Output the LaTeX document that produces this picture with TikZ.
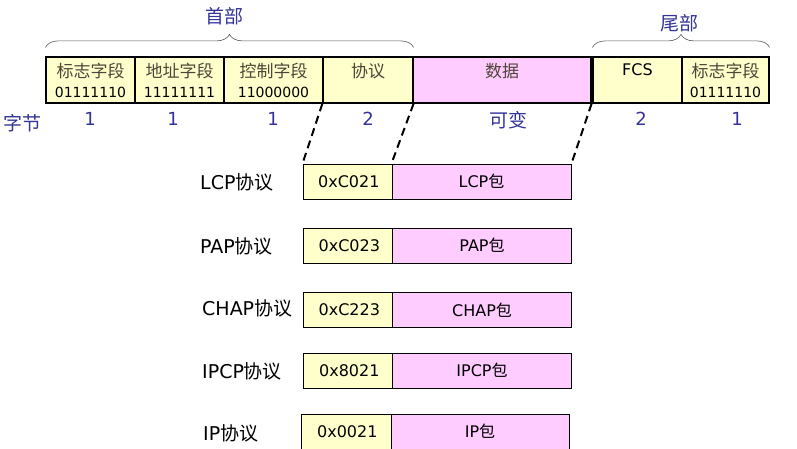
\documentclass[tikz,border=0pt]{standalone}
\usepackage{fontspec}
\setmainfont{DejaVu Sans}
\newfontfamily\zhfont{Noto Sans CJK SC}
\usepackage{tikz}
\usetikzlibrary{
    calc,
    decorations.pathreplacing
}
\definecolor{fldyellow}{RGB}{255,255,204}
\definecolor{datpink}{RGB}{255,204,255}
\definecolor{lblblue}{RGB}{51,51,153}
\definecolor{zhgray}{RGB}{80,68,56}
\newcommand{\zh}[1]{{\zhfont\color{zhgray}#1}}
\newcommand{\zb}[1]{{\zhfont #1}}

\begin{document}
\begin{tikzpicture}[x=1pt, y=-1pt,
    fld/.style={draw, line width=1.2pt, fill=fldyellow, inner sep=0pt, minimum height=46pt, align=center, font=\fontsize{14}{20}\selectfont},
    dat/.style={fld, fill=datpink},
    sub/.style={draw, line width=1pt, fill=fldyellow, inner sep=0pt, minimum height=35pt, font=\fontsize{16}{18}\selectfont},
    subd/.style={sub, fill=datpink},
    num/.style={text=lblblue, font=\fontsize{18}{20}\selectfont},
    lbl/.style={text=lblblue, font=\zhfont\fontsize{19}{20}\selectfont},
    proto/.style={anchor=west, inner sep=0pt, font=\fontsize{19}{20}\selectfont},
    cut/.style={line width=2pt, dash pattern=on 8pt off 5pt},
    brc/.style={decorate, decoration={brace, amplitude=13pt, raise=9pt}, gray!70!black, line width=0.6pt}
]
        \useasboundingbox (0,0) rectangle (797,448);

        % frame
        \draw (90.5,80) node[fld, minimum width=89pt](f1){\zh{\fontsize{17}{20}\selectfont 标志字段}\\01111110};
        \draw (179.5,80) node[fld, minimum width=89pt](f2){\zh{\fontsize{17}{20}\selectfont 地址字段}\\11111111};
        \draw (273.5,80) node[fld, minimum width=99pt](f3){\zh{\fontsize{17}{20}\selectfont 控制字段}\\11000000};
        \draw (368,80) node[fld, minimum width=90pt](f4){\zh{\fontsize{17}{20}\selectfont 协议}\\~};
        \draw (502,80) node[dat, minimum width=178pt](f5){\zh{\fontsize{17}{20}\selectfont 数据}\\~};
        \draw (637.5,80) node[fld, minimum width=89pt](f6){\fontsize{16}{20}\selectfont FCS\\~};
        \draw (725.5,80) node[fld, minimum width=87pt](f7){\zh{\fontsize{17}{20}\selectfont 标志字段}\\01111110};

        \draw[brc] (f1.north west) -- (f4.north east);
        \draw[brc] (f6.north west) -- (f7.north east);
        \draw (224,16) node[lbl](hd){首部};
        \draw (679,23) node[lbl](tl){尾部};

        % byte counts
        \draw (23,123) node[lbl](by){字节};
        \draw (90,119) node[num](n1){1};
        \draw (173,119) node[num](n2){1};
        \draw (273,119) node[num](n3){1};
        \draw (368,119) node[num](n4){2};
        \draw (508,120) node[lbl](n5){可变};
        \draw (641,119) node[num](n6){2};
        \draw (737,119) node[num](n7){1};

        % protocol field values
        \draw (347.5,181.5) node[sub, minimum width=89pt](p1){\,0xC021};
        \draw (481.5,181.5) node[subd, minimum width=179pt](d1){LCP\zb{包}};
        \draw (200,182) node[proto](l1){LCP\zb{协议}};

        \draw (348,245.5) node[sub, minimum width=89pt](p2){\,0xC023};
        \draw (482,245.5) node[subd, minimum width=179pt](d2){PAP\zb{包}};
        \draw (200,246) node[proto](l2){PAP\zb{协议}};

        \draw (348,310) node[sub, minimum width=89pt](p3){\,0xC223};
        \draw (482,310) node[subd, minimum width=179pt](d3){CHAP\zb{包}};
        \draw (202,308) node[proto](l3){CHAP\zb{协议}};

        \draw (348,370.5) node[sub, minimum width=89pt](p4){\,0x8021};
        \draw (482,370.5) node[subd, minimum width=179pt](d4){IPCP\zb{包}};
        \draw (202,371) node[proto](l4){IPCP\zb{协议}};

        \draw (346,431.5) node[sub, minimum width=90pt](p5){\,0x0021};
        \draw (480,431.5) node[subd, minimum width=178pt](d5){IP\zb{包}};
        \draw (203,433) node[proto](l5){IP\zb{协议}};

        \draw[cut] (f4.south west) -- (p1.north west);
        \draw[cut] (f4.south east) -- (d1.north west);
        \draw[cut] (f5.south east) -- (d1.north east);
    \end{tikzpicture}
\end{document}
